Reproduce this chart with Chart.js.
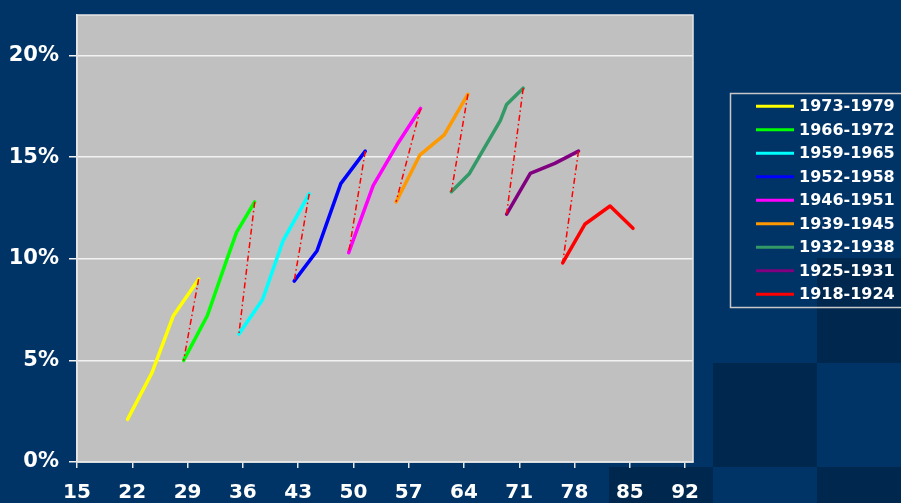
<!DOCTYPE html>
<html>
<head>
<meta charset="utf-8">
<script src="https://cdn.jsdelivr.net/npm/chart.js@4/dist/chart.umd.min.js"></script>
<style>
  html, body { margin: 0; padding: 0; background: #003366; }
  #wrap { width: 901px; height: 503px; }
</style>
</head>
<body>
<div id="wrap"><canvas id="c" width="901" height="503"></canvas></div>
<script>
// Birth cohorts, youngest first (legend order)
const cohorts = ['1973-1979', '1966-1972', '1959-1965', '1952-1958', '1946-1951',
                 '1939-1945', '1932-1938', '1925-1931', '1918-1924'];
const cohortColors = ['#FFFF00', '#00FF00', '#00FFFF', '#0000FF', '#FF00FF',
                      '#FF9900', '#339966', '#800080', '#FF0000'];

// Age (x) and rate in % (y) for each cohort
const ages_1973 = [21.4, 24.5, 27.2, 30.4];
const rates_1973 = [2.1, 4.4, 7.2, 9.0];
const ages_1966 = [28.5, 31.5, 34.0, 35.2, 37.5];
const rates_1966 = [5.0, 7.2, 10.0, 11.3, 12.8];
const ages_1959 = [35.5, 38.5, 41.1, 44.4];
const rates_1959 = [6.3, 8.0, 10.9, 13.2];
const ages_1952 = [42.5, 45.4, 48.4, 51.5];
const rates_1952 = [8.9, 10.4, 13.7, 15.3];
const ages_1946 = [49.4, 52.5, 55.5, 58.5];
const rates_1946 = [10.3, 13.6, 15.6, 17.4];
const ages_1939 = [55.4, 58.4, 61.5, 64.5];
const rates_1939 = [12.8, 15.1, 16.1, 18.1];
const ages_1932 = [62.4, 64.7, 68.6, 69.4, 71.5];
const rates_1932 = [13.3, 14.2, 16.8, 17.6, 18.4];
const ages_1925 = [69.4, 72.4, 75.5, 78.5];
const rates_1925 = [12.2, 14.2, 14.7, 15.3];
const ages_1918 = [76.5, 79.3, 82.5, 85.4];
const rates_1918 = [9.8, 11.7, 12.6, 11.5];

const cohortAges = [ages_1973, ages_1966, ages_1959, ages_1952, ages_1946,
                    ages_1939, ages_1932, ages_1925, ages_1918];
const cohortRates = [rates_1973, rates_1966, rates_1959, rates_1952, rates_1946,
                     rates_1939, rates_1932, rates_1925, rates_1918];

const xTicks = [15, 22, 29, 36, 43, 50, 57, 64, 71, 78, 85, 92];
const yTicks = [0, 5, 10, 15, 20];

const FONT = '"DejaVu Sans", "Liberation Sans", Arial, sans-serif';

const toPoints = (xs, ys) => xs.map((x, i) => ({ x: x, y: ys[i] }));

const seriesSets = cohorts.map((name, i) => ({
  label: name,
  data: toPoints(cohortAges[i], cohortRates[i]),
  borderColor: cohortColors[i],
  backgroundColor: cohortColors[i],
  borderWidth: 3.5,
  borderCapStyle: 'round',
  borderJoinStyle: 'round',
  pointRadius: 0,
  pointHoverRadius: 0,
  showLine: true,
  fill: false,
  order: 1
}));

// Dash-dot links from the end of one cohort to the start of the next
const linkSets = [];
for (let i = 0; i < cohorts.length - 1; i++) {
  const a = cohortAges[i], r = cohortRates[i];
  linkSets.push({
    label: '_link' + i,
    data: [
      { x: a[a.length - 1], y: r[r.length - 1] },
      { x: cohortAges[i + 1][0], y: cohortRates[i + 1][0] }
    ],
    borderColor: '#FF0000',
    borderWidth: 1.5,
    borderDash: [6, 3, 1.5, 3],
    pointRadius: 0,
    pointHoverRadius: 0,
    showLine: true,
    fill: false,
    order: 0
  });
}

const backdrop = {
  id: 'backdrop',
  beforeDraw(chart) {
    const ctx = chart.ctx, a = chart.chartArea;
    ctx.save();
    ctx.fillStyle = '#003366';
    ctx.fillRect(0, 0, chart.width, chart.height);
    ctx.fillStyle = '#00284F';
    ctx.fillRect(817, 258, 90, 105);
    ctx.fillRect(713, 363, 104, 104);
    ctx.fillRect(609, 467, 104, 40);
    ctx.fillRect(817, 467, 90, 40);
    ctx.fillStyle = '#C0C0C0';
    ctx.fillRect(a.left, a.top, a.right - a.left, a.bottom - a.top);
    ctx.restore();
  },
  beforeDatasetsDraw(chart) {
    const ctx = chart.ctx, a = chart.chartArea;
    ctx.save();
    ctx.strokeStyle = '#E6E6E6';
    ctx.lineWidth = 1.5;
    ctx.strokeRect(a.left, a.top, a.right - a.left, a.bottom - a.top);
    ctx.restore();
  }
};

const boxLegend = {
  id: 'boxLegend',
  afterDraw(chart) {
    const ctx = chart.ctx;
    const sets = chart.data.datasets.filter(d => !d.label.startsWith('_'));
    const left = 730.5, top = 93.5, height = 214, rowTop = 106.3, rowStep = 23.5;
    ctx.save();
    ctx.strokeStyle = '#C8C8C8';
    ctx.lineWidth = 1.5;
    ctx.strokeRect(left, top, 200, height);
    ctx.font = 'bold 16px ' + FONT;
    ctx.textAlign = 'left';
    ctx.textBaseline = 'middle';
    sets.forEach((d, i) => {
      const y = rowTop + i * rowStep;
      ctx.strokeStyle = d.borderColor;
      ctx.lineWidth = 3;
      ctx.beginPath();
      ctx.moveTo(756, y);
      ctx.lineTo(794, y);
      ctx.stroke();
      ctx.fillStyle = '#FFFFFF';
      ctx.fillText(d.label, 799, y + 1);
    });
    ctx.restore();
  }
};

new Chart(document.getElementById('c'), {
  type: 'scatter',
  data: { datasets: seriesSets.concat(linkSets) },
  options: {
    responsive: false,
    animation: false,
    devicePixelRatio: 1,
    layout: { padding: { top: 15, right: 208, left: 0, bottom: 0 } },
    plugins: {
      legend: { display: false },
      tooltip: { enabled: false }
    },
    scales: {
      x: {
        type: 'linear',
        position: 'bottom',
        min: 15,
        max: 93,
        afterBuildTicks: s => { s.ticks = xTicks.map(v => ({ value: v })); },
        afterFit: s => { s.height = 41; s.paddingLeft = 0; s.paddingRight = 0; },
        grid: { drawOnChartArea: false, drawTicks: true, tickLength: 6, color: '#E6E6E6', lineWidth: 1.5 },
        border: { display: true, color: '#E6E6E6', width: 1.5 },
        ticks: {
          color: '#FFFFFF',
          font: { family: FONT, size: 20, weight: 'bold' },
          padding: 13,
          maxRotation: 0,
          autoSkip: false
        }
      },
      y: {
        type: 'linear',
        min: 0,
        max: 22,
        afterBuildTicks: s => { s.ticks = yTicks.map(v => ({ value: v })); },
        afterFit: s => { s.width = 77; s.paddingTop = 0; s.paddingBottom = 0; },
        grid: { drawOnChartArea: true, drawTicks: true, tickLength: 8, color: '#F2F2F2', lineWidth: 1.5 },
        border: { display: true, color: '#E6E6E6', width: 1.5 },
        ticks: {
          color: '#FFFFFF',
          font: { family: FONT, size: 21, weight: 'bold' },
          padding: 10,
          callback: v => v + '%'
        }
      }
    }
  },
  plugins: [backdrop, boxLegend]
});
</script>
</body>
</html>
